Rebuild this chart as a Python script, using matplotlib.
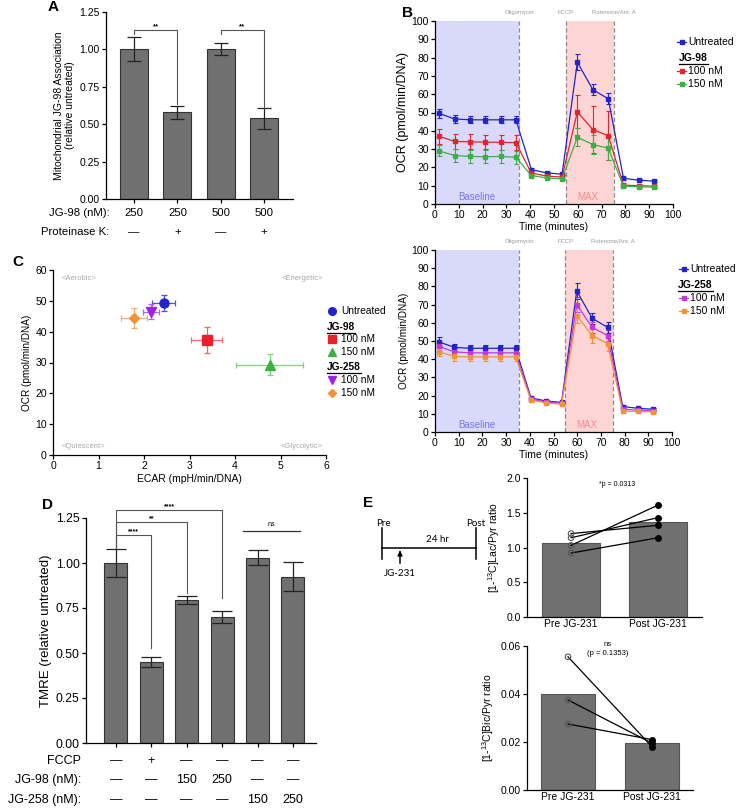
import matplotlib
matplotlib.use('Agg')
import matplotlib.pyplot as plt
from matplotlib.lines import Line2D
from matplotlib import transforms as mtrans
import numpy as np

plt.rcParams['font.family'] = ['Liberation Sans', 'DejaVu Sans']
plt.rcParams['mathtext.default'] = 'regular'
plt.rcParams['axes.linewidth'] = 0.9

# ---------------- DATA ----------------
# Panel A
a_values = [1.00, 0.58, 1.00, 0.54]
a_errors = [0.08, 0.045, 0.04, 0.07]
a_jg98 = ['250', '250', '500', '500']
a_protk = ['—', '+', '—', '+']

# Panel B
b_time = [1.7, 8.2, 14.7, 21.1, 27.6, 34.0, 40.5, 46.9, 53.4, 59.8, 66.3, 72.8, 79.2, 85.7, 92.1]
b_untreated = [49.5, 46.5, 46.0, 46.0, 46.0, 46.0, 18.8, 17.0, 16.3, 77.5, 62.5, 57.5, 14.0, 13.0, 12.5]
b_untreated_err = [2.5, 2.0, 2.0, 2.0, 2.0, 2.0, 1.0, 0.6, 0.6, 4.5, 3.0, 3.0, 0.8, 0.5, 0.5]
b_jg98_100 = [37.0, 34.2, 34.0, 33.8, 33.7, 33.5, 16.8, 15.3, 14.7, 50.3, 40.7, 37.3, 10.3, 10.0, 9.7]
b_jg98_100_err = [4.0, 4.2, 4.0, 4.0, 4.0, 4.2, 1.0, 1.0, 1.0, 9.0, 13.0, 13.5, 1.0, 0.8, 0.8]
b_jg98_150 = [29.0, 26.5, 26.0, 25.8, 26.0, 25.5, 15.5, 14.3, 13.7, 36.5, 32.5, 30.5, 9.7, 9.5, 9.2]
b_jg98_150_err = [3.0, 3.5, 3.5, 3.5, 3.5, 3.5, 0.8, 0.8, 0.8, 5.0, 5.0, 6.5, 0.5, 0.5, 0.5]
b_jg258_100 = [47.0, 44.0, 43.5, 43.5, 43.5, 43.5, 18.0, 16.5, 15.8, 70.0, 57.5, 53.0, 12.5, 12.0, 11.8]
b_jg258_100_err = [2.0, 2.0, 2.0, 2.0, 2.0, 2.0, 0.8, 0.6, 0.6, 4.0, 3.0, 3.0, 0.6, 0.5, 0.5]
b_jg258_150 = [44.0, 41.5, 41.3, 41.3, 41.3, 41.3, 17.5, 16.0, 15.2, 64.0, 53.0, 48.5, 11.5, 11.3, 11.0]
b_jg258_150_err = [2.5, 2.5, 2.5, 2.5, 2.5, 2.5, 0.8, 0.8, 0.8, 4.0, 4.0, 4.0, 0.8, 0.8, 0.8]
b_inj_times = [35.5, 55.0, 75.0]
b_inj_labels = ['Oligomycin', 'FCCP', 'Rotenone/Ant. A']

# Panel C
c_labels = ['Untreated', '100 nM', '150 nM', '100 nM', '150 nM']
c_ecar = [2.43, 3.38, 4.76, 2.15, 1.78]
c_ecar_err = [0.25, 0.34, 0.73, 0.18, 0.29]
c_ocr = [49.3, 37.2, 29.3, 46.5, 44.4]
c_ocr_err = [2.6, 4.2, 3.5, 2.5, 3.2]

# Panel D
d_values = [1.00, 0.45, 0.795, 0.70, 1.03, 0.925]
d_errors = [0.08, 0.03, 0.02, 0.035, 0.04, 0.08]
d_fccp = ['—', '+', '—', '—', '—', '—']
d_jg98 = ['—', '—', '150', '250', '—', '—']
d_jg258 = ['—', '—', '—', '—', '150', '250']

# Panel E
e_groups = ['Pre JG-231', 'Post JG-231']
e_lac_mean = [1.06, 1.37]
e_lac_pre = [1.03, 1.14, 1.20, 0.92]
e_lac_post = [1.61, 1.43, 1.32, 1.14]
e_bic_mean = [0.0402, 0.0195]
e_bic_pre = [0.0555, 0.0375, 0.0275]
e_bic_post = [0.0180, 0.0195, 0.0210]

# ---------------- FIGURE ----------------
W, H = 737, 808
fig = plt.figure(figsize=(W / 100, H / 100), dpi=100)
renderer = fig.canvas.get_renderer()

BAR_C = '#707070'
EDGE_C = '#333333'
BLUE = '#2323cc'
RED = '#e0262c'
GREEN = '#3cb043'
MAGENTA = '#c436d6'
ORANGE = '#f39237'
PURPLE = '#a020e8'


def add_ax(x0, y0, x1, y1):
    return fig.add_axes([x0 / W, 1 - y1 / H, (x1 - x0) / W, (y1 - y0) / H])


def ftext(x, y, s, **kw):
    return fig.text(x / W, 1 - y / H, s, **kw)


def fline(xs, ys, **kw):
    fig.add_artist(Line2D([x / W for x in xs], [1 - y / H for y in ys],
                          transform=fig.transFigure, **kw))


def style(ax, fs):
    for s in ['top', 'right']:
        ax.spines[s].set_visible(False)
    ax.tick_params(direction='out', length=3, width=0.9, labelsize=fs, pad=1.5)


def underlined(x, y, s, fs):
    t = ftext(x, y, s, fontsize=fs, fontweight='bold', ha='left', va='center')
    bb = t.get_window_extent(renderer)
    fig.add_artist(Line2D([bb.x0 / W, bb.x1 / W], [(bb.y0 - 0.5) / H, (bb.y0 - 0.5) / H],
                          transform=fig.transFigure, color='black', lw=0.9))


# ---------------- PANEL A ----------------
axA = add_ax(106, 12, 293, 199)
xa = np.arange(len(a_values))
axA.bar(xa, a_values, width=0.65, color=BAR_C, edgecolor=EDGE_C, lw=0.8,
        yerr=a_errors, capsize=5, error_kw=dict(elinewidth=0.9, capthick=0.9, ecolor='#222222'))
axA.set_xlim(-0.65, 3.67)
axA.set_ylim(0, 1.25)
axA.set_yticks([0, 0.25, 0.5, 0.75, 1.0, 1.25])
axA.set_yticklabels(['0.00', '0.25', '0.50', '0.75', '1.00', '1.25'])
axA.set_xticks(xa)
axA.set_xticklabels([])
style(axA, 7.5)
axA.set_ylabel('Mitochondrial JG-98 Association\n(relative untreated)', fontsize=7.5, labelpad=3)
trA = mtrans.blended_transform_factory(axA.transData, axA.transAxes)
for i in xa:
    axA.text(i, -0.075, a_jg98[i], transform=trA, ha='center', va='center', fontsize=8.2)
    axA.text(i, -0.176, a_protk[i], transform=trA, ha='center', va='center', fontsize=8.2)
axA.text(0.02, -0.075, 'JG-98 (nM):', transform=axA.transAxes, ha='right', va='center', fontsize=8.2)
axA.text(0.02, -0.176, 'Proteinase K:', transform=axA.transAxes, ha='right', va='center', fontsize=8.2)


def bracket(ax, x0, x1, y, yl0, yl1, label, fs=5.5, color='#555555'):
    ax.plot([x0, x0, x1, x1], [yl0, y, y, yl1], color=color, lw=0.8, clip_on=False)
    ax.text((x0 + x1) / 2, y, label, ha='center', va='bottom', fontsize=fs,
            fontweight='bold', clip_on=False)


bracket(axA, 0, 1, 1.13, 1.10, 0.635, '**')
bracket(axA, 2, 3, 1.13, 1.10, 0.61, '**')

# ---------------- PANEL B ----------------


def panel_b(ax, series, ylabel_fs):
    ax.axvspan(0, 35.5, color='#d9d9fb', lw=0, zorder=0)
    ax.axvspan(55, 75, color='#fdd5d5', lw=0, zorder=0)
    for xv, lbl in zip(b_inj_times, b_inj_labels):
        ax.axvline(xv, color='#8c8c8c', ls=(0, (3.5, 2)), lw=0.9, zorder=1)
        ax.text(xv, 104.5, lbl, ha='center', va='center', fontsize=4.3,
                color='#9a9a9a', clip_on=False)
    for vals, errs, col in series:
        ax.errorbar(b_time, vals, yerr=errs, color=col, marker='s', ms=2.3, lw=0.9,
                    elinewidth=0.8, capsize=1.8, capthick=0.8, zorder=3)
    ax.set_xlim(0, 100)
    ax.set_ylim(0, 100)
    ax.set_xticks(range(0, 101, 10))
    ax.set_yticks(range(0, 101, 10))
    style(ax, 7.5)
    ax.text(17.7, 4, 'Baseline', color='#7878ee', ha='center', va='center', fontsize=7)
    ax.text(64, 4, 'MAX', color='#f38c8c', ha='center', va='center', fontsize=7)
    ax.set_xlabel('Time (minutes)', fontsize=7.5, labelpad=1)
    ax.set_ylabel('OCR (pmol/min/DNA)', fontsize=ylabel_fs, labelpad=2)


axB1 = add_ax(435, 21, 673, 204)
panel_b(axB1, [(b_untreated, b_untreated_err, BLUE),
               (b_jg98_100, b_jg98_100_err, RED),
               (b_jg98_150, b_jg98_150_err, GREEN)], 9)
axB2 = add_ax(435, 250, 672, 432)
panel_b(axB2, [(b_untreated, b_untreated_err, BLUE),
               (b_jg258_100, b_jg258_100_err, MAGENTA),
               (b_jg258_150, b_jg258_150_err, ORANGE)], 7.2)


def b_legend_item(x0, y, col, label, fs=7.5):
    fline([x0, x0 + 9], [y, y], color=col, lw=0.9)
    fline([x0 + 4.5], [y], color=col, marker='s', ms=2.3, lw=0)
    ftext(x0 + 11, y, label, fontsize=fs, ha='left', va='center')


b_legend_item(677, 42, BLUE, 'Untreated')
underlined(679, 58, 'JG-98', 7.5)
b_legend_item(677, 71, RED, '100 nM')
b_legend_item(677, 84, GREEN, '150 nM')

b_legend_item(679, 269, BLUE, 'Untreated')
underlined(678, 285, 'JG-258', 7.5)
b_legend_item(679, 298, MAGENTA, '100 nM')
b_legend_item(679, 311, ORANGE, '150 nM')

# ---------------- PANEL C ----------------
axC = add_ax(53, 270, 326, 455)
c_colors = [BLUE, RED, GREEN, PURPLE, ORANGE]
c_ecolors = ['#5050e0', '#f06a6a', '#7ad27a', '#b860ee', '#f5ad6a']
c_markers = ['o', 's', '^', 'v', 'D']
c_ms = [6.5, 7, 6.5, 6.5, 5]
for i in range(len(c_ecar)):
    axC.errorbar(c_ecar[i], c_ocr[i], xerr=c_ecar_err[i], yerr=c_ocr_err[i],
                 fmt=c_markers[i], color=c_colors[i], ecolor=c_ecolors[i], ms=c_ms[i],
                 mec=c_colors[i], elinewidth=0.9, capsize=2.5, capthick=0.9, zorder=3)
axC.set_xlim(0, 6)
axC.set_ylim(0, 60)
axC.set_xticks(range(0, 7))
axC.set_yticks(range(0, 61, 10))
style(axC, 7.5)
axC.set_xlabel('ECAR (mpH/min/DNA)', fontsize=7.5, labelpad=2)
axC.set_ylabel('OCR (pmol/min/DNA)', fontsize=7.2, labelpad=2)
gray_kw = dict(fontsize=5.5, color='#aaaaaa', va='center')
axC.text(0.2, 57.3, '<Aerobic>', ha='left', **gray_kw)
axC.text(5.93, 57.3, '<Energetic>', ha='right', **gray_kw)
axC.text(0.2, 2.9, '<Quiescent>', ha='left', **gray_kw)
axC.text(5.93, 2.9, '<Glycolytic>', ha='right', **gray_kw)


def c_legend_item(x, y, col, marker, ms, label):
    fline([x], [y], color=col, marker=marker, ms=ms, lw=0)
    ftext(x + 9, y, label, fontsize=7.3, ha='left', va='center')


c_legend_item(332, 311, BLUE, 'o', 5.5, c_labels[0])
underlined(327, 327, 'JG-98', 7.3)
c_legend_item(332, 339, RED, 's', 5.5, c_labels[1])
c_legend_item(332, 352, GREEN, '^', 5.5, c_labels[2])
underlined(327, 367, 'JG-258', 7.3)
c_legend_item(332, 380, PURPLE, 'v', 5.5, c_labels[3])
c_legend_item(332, 393, ORANGE, 'D', 4.5, c_labels[4])

# ---------------- PANEL D ----------------
axD = add_ax(86, 518, 316, 743)
xd = np.arange(len(d_values))
axD.bar(xd, d_values, width=0.65, color=BAR_C, edgecolor=EDGE_C, lw=0.8,
        yerr=d_errors, capsize=7, error_kw=dict(elinewidth=0.9, capthick=0.9, ecolor='#222222'))
axD.set_xlim(-0.845, 5.65)
axD.set_ylim(0, 1.25)
axD.set_yticks([0, 0.25, 0.5, 0.75, 1.0, 1.25])
axD.set_yticklabels(['0.00', '0.25', '0.50', '0.75', '1.00', '1.25'])
axD.set_xticks(xd)
axD.set_xticklabels([])
style(axD, 8.7)
axD.set_ylabel('TMRE (relative untreated)', fontsize=9.5, labelpad=3)
trD = mtrans.blended_transform_factory(axD.transData, axD.transAxes)
rows = [(d_fccp, -0.08, 'FCCP'), (d_jg98, -0.164, 'JG-98 (nM):'), (d_jg258, -0.253, 'JG-258 (nM):')]
for vals, yy, lbl in rows:
    for i in xd:
        axD.text(i, yy, vals[i], transform=trD, ha='center', va='center', fontsize=9)
    axD.text(-0.02, yy, lbl, transform=axD.transAxes, ha='right', va='center', fontsize=9)

bracket(axD, 0, 3, 1.294, 1.083, 0.805, '****', fs=5)
bracket(axD, 0, 2, 1.228, 1.083, 0.835, '**', fs=5)
bracket(axD, 0, 1, 1.155, 1.083, 0.53, '****', fs=5)
axD.plot([3.58, 5.21], [1.178, 1.178], color='#333333', lw=0.9, clip_on=False)
axD.text(4.4, 1.195, 'ns', ha='center', va='bottom', fontsize=5, clip_on=False)

# ---------------- PANEL E ----------------
axE1 = add_ax(527, 478, 702, 617)
axE1.bar([0, 1], e_lac_mean, width=0.667, color=BAR_C, edgecolor='#555555', lw=0.8, zorder=1)
for p, q in zip(e_lac_pre, e_lac_post):
    axE1.plot([0, 1], [p, q], color='black', lw=0.9, zorder=2)
axE1.scatter([0] * len(e_lac_pre), e_lac_pre, s=16, facecolor='none', edgecolor='#555555', lw=0.8, zorder=3)
axE1.scatter([1] * len(e_lac_post), e_lac_post, s=16, color='black', zorder=3)
axE1.set_xlim(-0.506, 1.506)
axE1.set_ylim(0, 2.0)
axE1.set_yticks([0, 0.5, 1.0, 1.5, 2.0])
axE1.set_yticklabels(['0.0', '0.5', '1.0', '1.5', '2.0'])
axE1.set_xticks([0, 1])
axE1.set_xticklabels(e_groups)
style(axE1, 7.5)
axE1.tick_params(axis='x', length=0)
axE1.set_ylabel('[1-$^{13}$C]Lac/Pyr ratio', fontsize=7.5, labelpad=3)
axE1.text(0.53, 1.91, '*p = 0.0313', ha='center', va='center', fontsize=5, clip_on=False)

axE2 = add_ax(527, 646, 693, 790)
axE2.bar([0, 1], e_bic_mean, width=0.64, color=BAR_C, edgecolor='#555555', lw=0.8, zorder=1)
for p, q in zip(e_bic_pre, e_bic_post):
    axE2.plot([0, 1], [p, q], color='black', lw=0.9, zorder=2)
axE2.scatter([0] * len(e_bic_pre), e_bic_pre, s=16, facecolor='none', edgecolor='#555555', lw=0.8, zorder=3)
axE2.scatter([1] * len(e_bic_post), e_bic_post, s=16, color='black', zorder=3)
axE2.set_xlim(-0.488, 1.488)
axE2.set_ylim(0, 0.06)
axE2.set_yticks([0, 0.02, 0.04, 0.06])
axE2.set_yticklabels(['0.00', '0.02', '0.04', '0.06'])
axE2.set_xticks([0, 1])
axE2.set_xticklabels(e_groups)
style(axE2, 7.5)
axE2.tick_params(axis='x', length=0)
axE2.set_ylabel('[1-$^{13}$C]Bic/Pyr ratio', fontsize=7.5, labelpad=3)
axE2.text(0.476, 0.0608, 'ns', ha='center', va='center', fontsize=5.5, clip_on=False)
axE2.text(0.476, 0.0567, '(p = 0.1353)', ha='center', va='center', fontsize=5.5, clip_on=False)

# timeline schematic
fline([382, 476], [548, 548], color='black', lw=1.1)
fline([382, 382], [528, 559], color='black', lw=1.1)
fline([476, 476], [528, 559], color='black', lw=1.1)
fline([400, 400], [563, 554], color='black', lw=1.1)
fig.add_artist(matplotlib.patches.FancyArrowPatch((400 / W, 1 - 556 / H), (400 / W, 1 - 550.5 / H),
               transform=fig.transFigure, arrowstyle='-|>', mutation_scale=7, color='black', lw=1))
tl_font = ['Lato', 'DejaVu Sans']
ftext(383, 523, 'Pre', fontsize=7, ha='center', va='center', family=tl_font)
ftext(476, 523, 'Post', fontsize=7, ha='center', va='center', family=tl_font)
ftext(437, 540, '24 hr', fontsize=7, ha='center', va='center', family=tl_font)
ftext(400, 574, 'JG-231', fontsize=7, ha='center', va='center', family=tl_font)

# ---------------- PANEL LETTERS ----------------
for lx, ly, letter in [(53, 7, 'A'), (407, 13, 'B'), (18, 262, 'C'), (48, 505, 'D'), (368, 503, 'E')]:
    ftext(lx, ly, letter, fontsize=11, fontweight='bold', ha='center', va='center')

fig.savefig('out.png', dpi=100)
